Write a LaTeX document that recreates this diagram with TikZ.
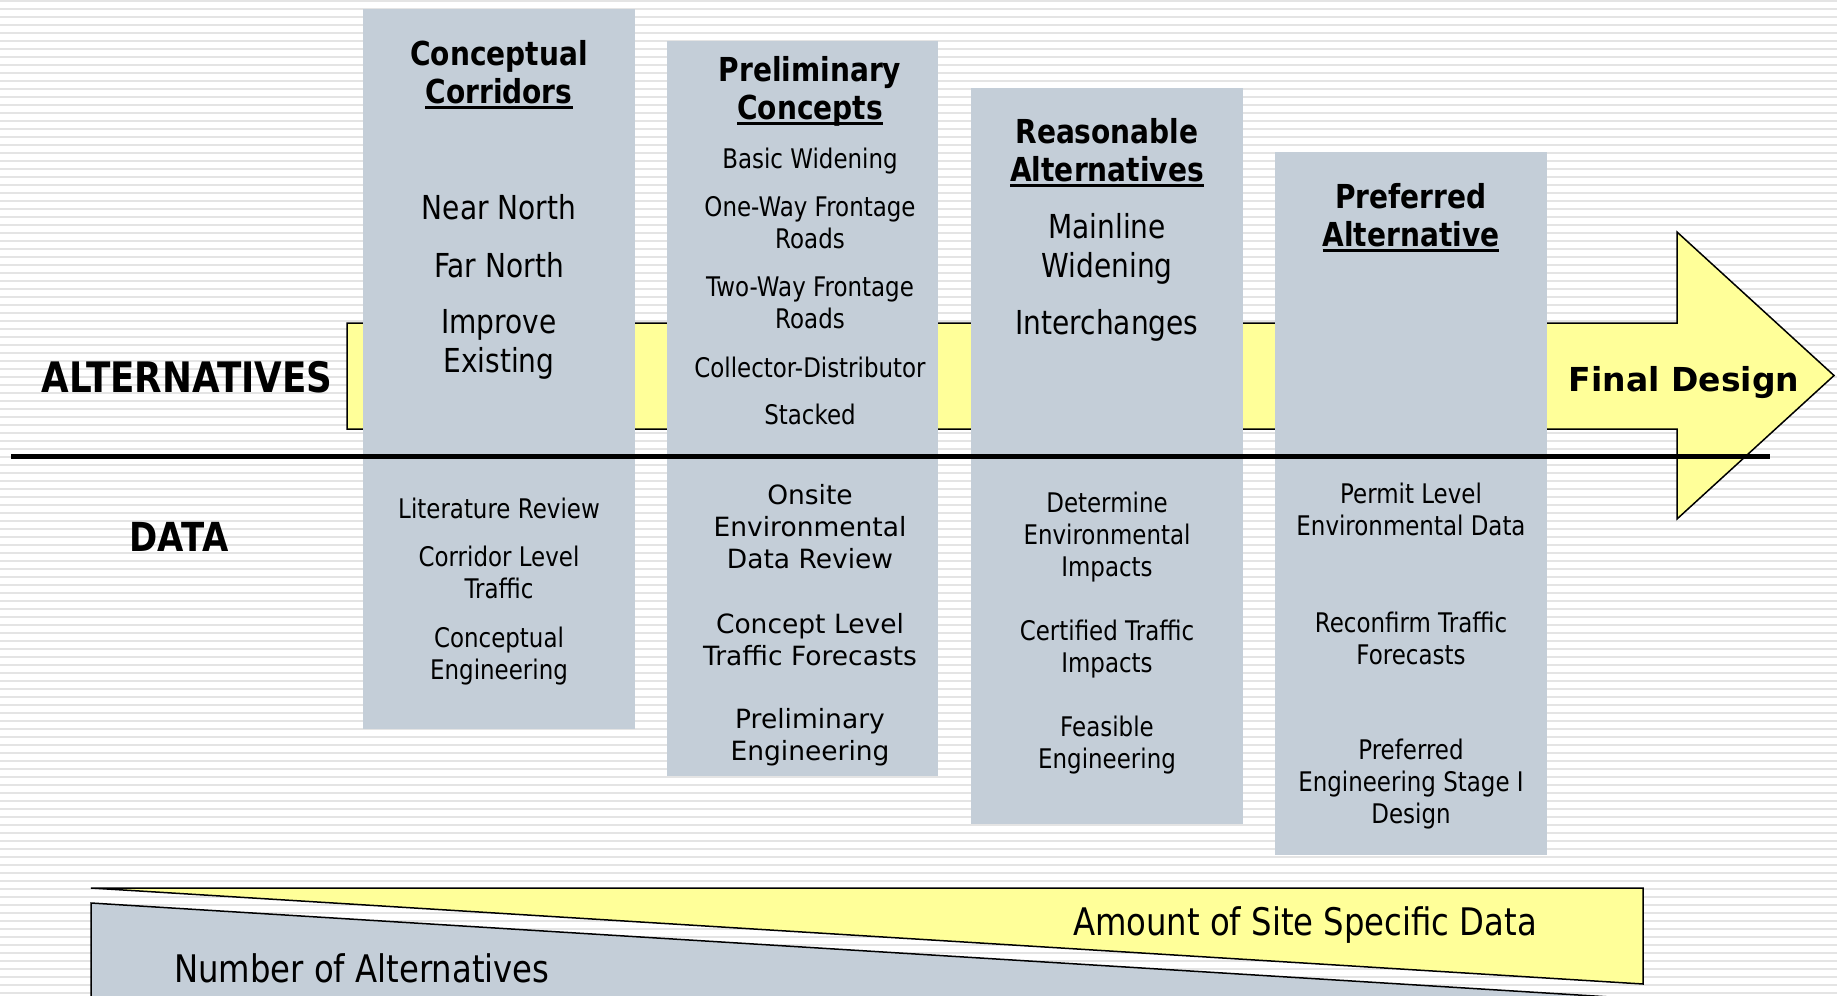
\documentclass[tikz,border=0pt]{standalone}
\usepackage{fontspec}
\setmainfont{DejaVu Sans}
\newfontfamily\tahoma[FakeStretch=0.85]{DejaVu Sans}

\definecolor{colgray}{RGB}{196,206,216}
\definecolor{lightyellow}{RGB}{255,255,153}
\definecolor{stripegray}{RGB}{228,228,228}

\newcommand{\ulhead}[1]{\setbox0=\hbox{#1}\rlap{\rule[-6pt]{\wd0}{3pt}}\box0}

\begin{document}
\begin{tikzpicture}[
		x=1pt,y=-1pt,
		stripe/.style={stripegray,line width=2.5pt},
		column/.style={fill=colgray},
		outline/.style={draw=black,line width=1.5pt},
		head/.style={anchor=base,inner sep=0pt,align=center,font=\tahoma\bfseries\fontsize{33}{37.5}\selectfont},
		big/.style={anchor=base,inner sep=0pt,align=center,font=\tahoma\fontsize{33}{39}\selectfont},
		small/.style={anchor=base,inner sep=0pt,align=center,font=\tahoma\fontsize{27}{32}\selectfont},
		wide/.style={anchor=base,inner sep=0pt,align=center,font=\fontsize{26.5}{32}\selectfont},
		rowlabel/.style={anchor=base,inner sep=0pt,font=\tahoma\bfseries\fontsize{40}{48}\selectfont}]
	\useasboundingbox (0,0) rectangle (1837,996);
	\clip (0,0) rectangle (1837,996);
	%% background
	\fill[white] (0,0) rectangle (1837,996);
	\foreach \k in {0,...,124}
		\draw[stripe] (0,{8*\k+1}) -- (1837,{8*\k+1});
	%% arrow and columns
	\draw[outline,fill=lightyellow] (347,323) -- (1677,323) -- (1677,232) -- (1834,375.5)
		-- (1677,519) -- (1677,429) -- (347,429) -- cycle;
	\fill[column] (363,9) rectangle (635,729);
	\fill[column] (667,41) rectangle (938,776);
	\fill[column] (971,88) rectangle (1243,824);
	\fill[column] (1275,152) rectangle (1547,855);
	\draw[line width=5pt] (11,456) -- (1770,456);
	%% row labels
	\node (alt) at (187,392) [rowlabel,font=\tahoma\bfseries\fontsize{42}{48}\selectfont] {ALTERNATIVES};
	\node (data) at (179,551) [rowlabel] {DATA};
	\node (fd) at (1684,391) [anchor=base,inner sep=0pt,font=\bfseries\fontsize{33}{40}\selectfont] {Final Design};
	%% conceptual corridors (multi-line nodes sit on their last baseline)
	\node (cc) at (499,103) [head] {Conceptual\\\ulhead{Corridors}};
	\node (nn) at (499,219) [big] {Near North};
	\node (fn) at (499,277) [big] {Far North};
	\node (ie) at (499,372) [big] {Improve\\Existing};
	\node (lr) at (499,518) [small] {Literature Review};
	\node (cl) at (499,598) [small] {Corridor Level\\Traffic};
	\node (ce) at (499,679) [small] {Conceptual\\Engineering};
	%% preliminary concepts
	\node (pc) at (810,119) [head] {Preliminary\\\ulhead{Concepts}};
	\node (bw) at (810,168) [small] {Basic Widening};
	\node (ow) at (810,248) [small] {One-Way Frontage\\Roads};
	\node (tw) at (810,328) [small] {Two-Way Frontage\\Roads};
	\node (cd) at (810,377) [small] {Collector-Distributor};
	\node (st) at (810,424) [small] {Stacked};
	\node (oe) at (810,568) [wide] {Onsite\\Environmental\\Data Review};
	\node (ct) at (810,665) [wide] {Concept Level\\Traffic Forecasts};
	\node (pe) at (810,760) [wide] {Preliminary\\Engineering};
	%% reasonable alternatives
	\node (ra) at (1107,181) [head] {Reasonable\\\ulhead{Alternatives}};
	\node (mw) at (1107,277) [big] {Mainline\\Widening};
	\node (ic) at (1107,334) [big] {Interchanges};
	\node (de) at (1107,576) [small] {Determine\\Environmental\\Impacts};
	\node (cf) at (1107,672) [small] {Certified Traffic\\Impacts};
	\node (fe) at (1107,768) [small] {Feasible\\Engineering};
	%% preferred alternative
	\node (pa) at (1411,246) [head] {Preferred\\\ulhead{Alternative}};
	\node (pl) at (1411,535) [small] {Permit Level\\Environmental Data};
	\node (rt) at (1411,664) [small] {Reconfirm Traffic\\Forecasts};
	\node (ps) at (1411,823) [small] {Preferred\\Engineering Stage I\\Design};
	%% wedges
	\fill[column] (91,903) -- (1643,999) -- (1643,1010) -- (91,1010) -- cycle;
	\draw[outline] (91,1010) -- (91,903) -- (1643,999);
	\draw[outline,fill=lightyellow] (91,888) -- (1643,888) -- (1643,984) -- cycle;
	\node (amt) at (1305,935) [anchor=base,inner sep=0pt,font=\tahoma\fontsize{38}{46}\selectfont] {Amount of Site Specific Data};
	\node (num) at (174,982) [anchor=base west,inner sep=0pt,font=\tahoma\fontsize{38}{46}\selectfont] {Number of Alternatives};
\end{tikzpicture}
\end{document}
